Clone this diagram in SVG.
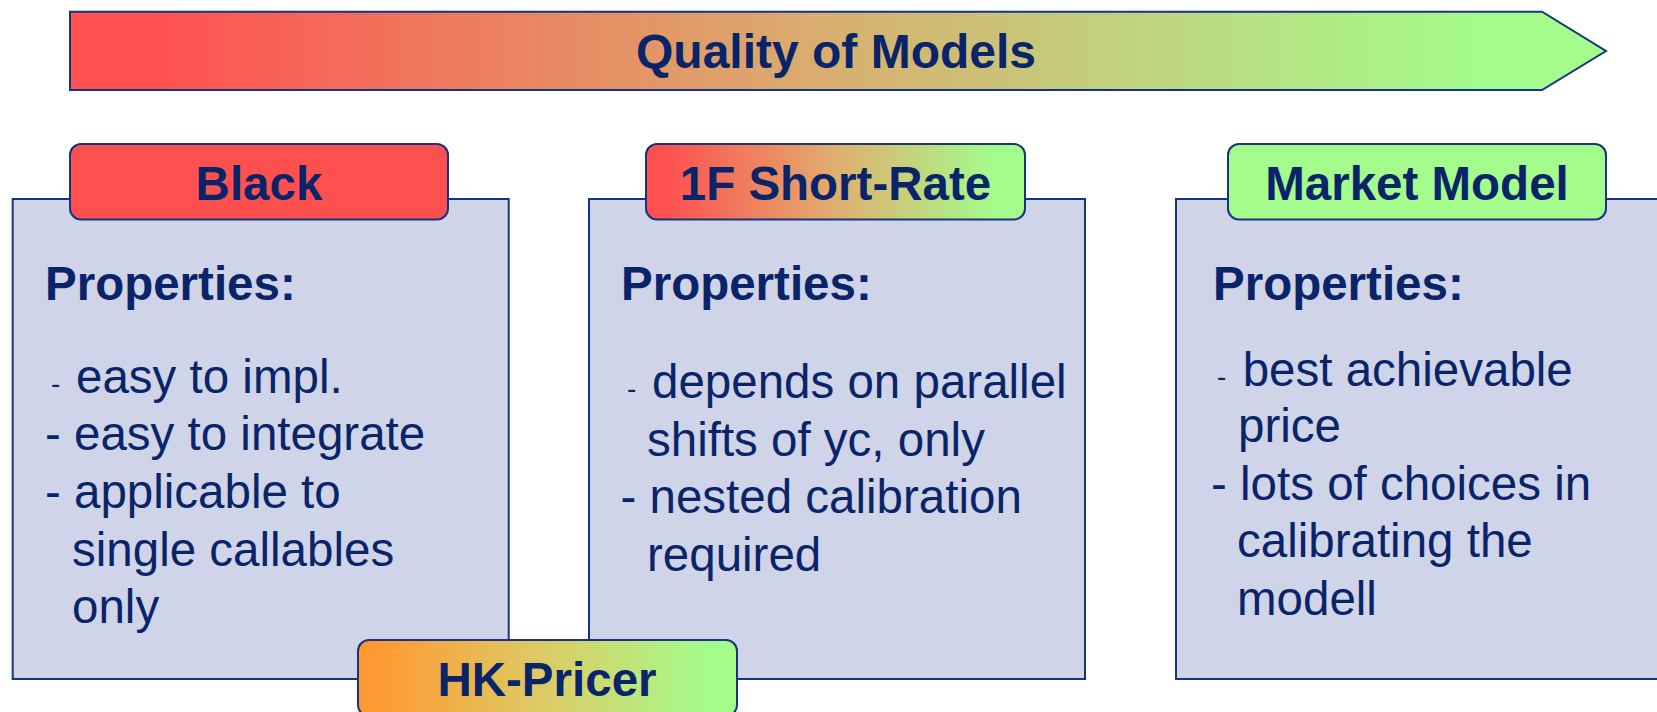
<svg xmlns="http://www.w3.org/2000/svg" width="1657" height="712" viewBox="0 0 1657 712">
<defs>
<linearGradient id="gArrow" x1="0" y1="0" x2="1" y2="0">
<stop offset="0.05" stop-color="#FF5050"/>
<stop offset="0.5" stop-color="#D8B070"/>
<stop offset="0.92" stop-color="#A4FC8C"/>
</linearGradient>
<linearGradient id="gRG" x1="0" y1="0" x2="1" y2="0">
<stop offset="0.05" stop-color="#FF5050"/>
<stop offset="0.5" stop-color="#E0AE6E"/>
<stop offset="0.92" stop-color="#A4FC8C"/>
</linearGradient>
<linearGradient id="gOG" x1="0" y1="0" x2="1" y2="0">
<stop offset="0.05" stop-color="#FF9933"/>
<stop offset="0.5" stop-color="#DCCC66"/>
<stop offset="0.92" stop-color="#A4FC8C"/>
</linearGradient>
<style>
.box{fill:#D0D4E8;stroke:#163384;stroke-width:2}
.hdr{stroke:#163384;stroke-width:2}
text{font-family:"Liberation Sans",Arial,sans-serif;fill:#0A246A}
.title{font-size:48px;font-weight:bold;text-anchor:middle}
.h{font-size:47.5px;font-weight:bold;text-anchor:middle}
.p{font-size:47.5px;font-weight:bold}
.b{font-size:47.5px}
.sd{font-size:28px}
</style>
</defs>
<g id="quality">
<polygon points="70,11.7 1542,11.7 1606,51 1542,90 70,90" fill="url(#gArrow)" stroke="#163384" stroke-width="2"/>
<text class="title" x="836" y="68">Quality of Models</text>
</g>
<g id="black">
<rect class="box" x="12.7" y="199" width="496" height="480"/>
<rect class="hdr" x="70" y="144" width="378" height="75.5" rx="11" fill="#FF5050"/>
<text class="h" x="259" y="200">Black</text>
<text class="p" x="45" y="300">Properties:</text>
<text class="sd" x="51" y="393">-</text>
<text class="b" x="76" y="393">easy to impl.</text>
<text class="b" x="45" y="450">- easy to integrate</text>
<text class="b" x="45" y="508">- applicable to</text>
<text class="b" x="72" y="566">single callables</text>
<text class="b" x="72" y="623">only</text>
</g>
<g id="shortrate">
<rect class="box" x="589" y="199" width="496" height="480"/>
<rect class="hdr" x="646" y="144" width="379" height="75.5" rx="11" fill="url(#gRG)"/>
<text class="h" x="835.5" y="200">1F Short-Rate</text>
<text class="p" x="621" y="300">Properties:</text>
<text class="sd" x="627" y="398">-</text>
<text class="b" x="652" y="398">depends on parallel</text>
<text class="b" x="647" y="456">shifts of yc, only</text>
<text class="b" x="620.5" y="513">- nested calibration</text>
<text class="b" x="647" y="571">required</text>
</g>
<g id="market">
<rect class="box" x="1176" y="199" width="496" height="480"/>
<rect class="hdr" x="1228" y="144" width="378" height="75.5" rx="11" fill="#A4FC8C"/>
<text class="h" x="1417" y="200">Market Model</text>
<text class="p" x="1213" y="300">Properties:</text>
<text class="sd" x="1217" y="386">-</text>
<text class="b" x="1242.7" y="386">best achievable</text>
<text class="b" x="1238" y="442">price</text>
<text class="b" x="1211" y="500">- lots of choices in</text>
<text class="b" x="1237" y="557">calibrating the</text>
<text class="b" x="1237" y="615">modell</text>
</g>
<g id="hkpricer">
<rect class="hdr" x="358" y="640" width="379" height="76" rx="11" fill="url(#gOG)"/>
<text class="h" x="547" y="696">HK-Pricer</text>
</g>
<g id="connectors"/>
</svg>
